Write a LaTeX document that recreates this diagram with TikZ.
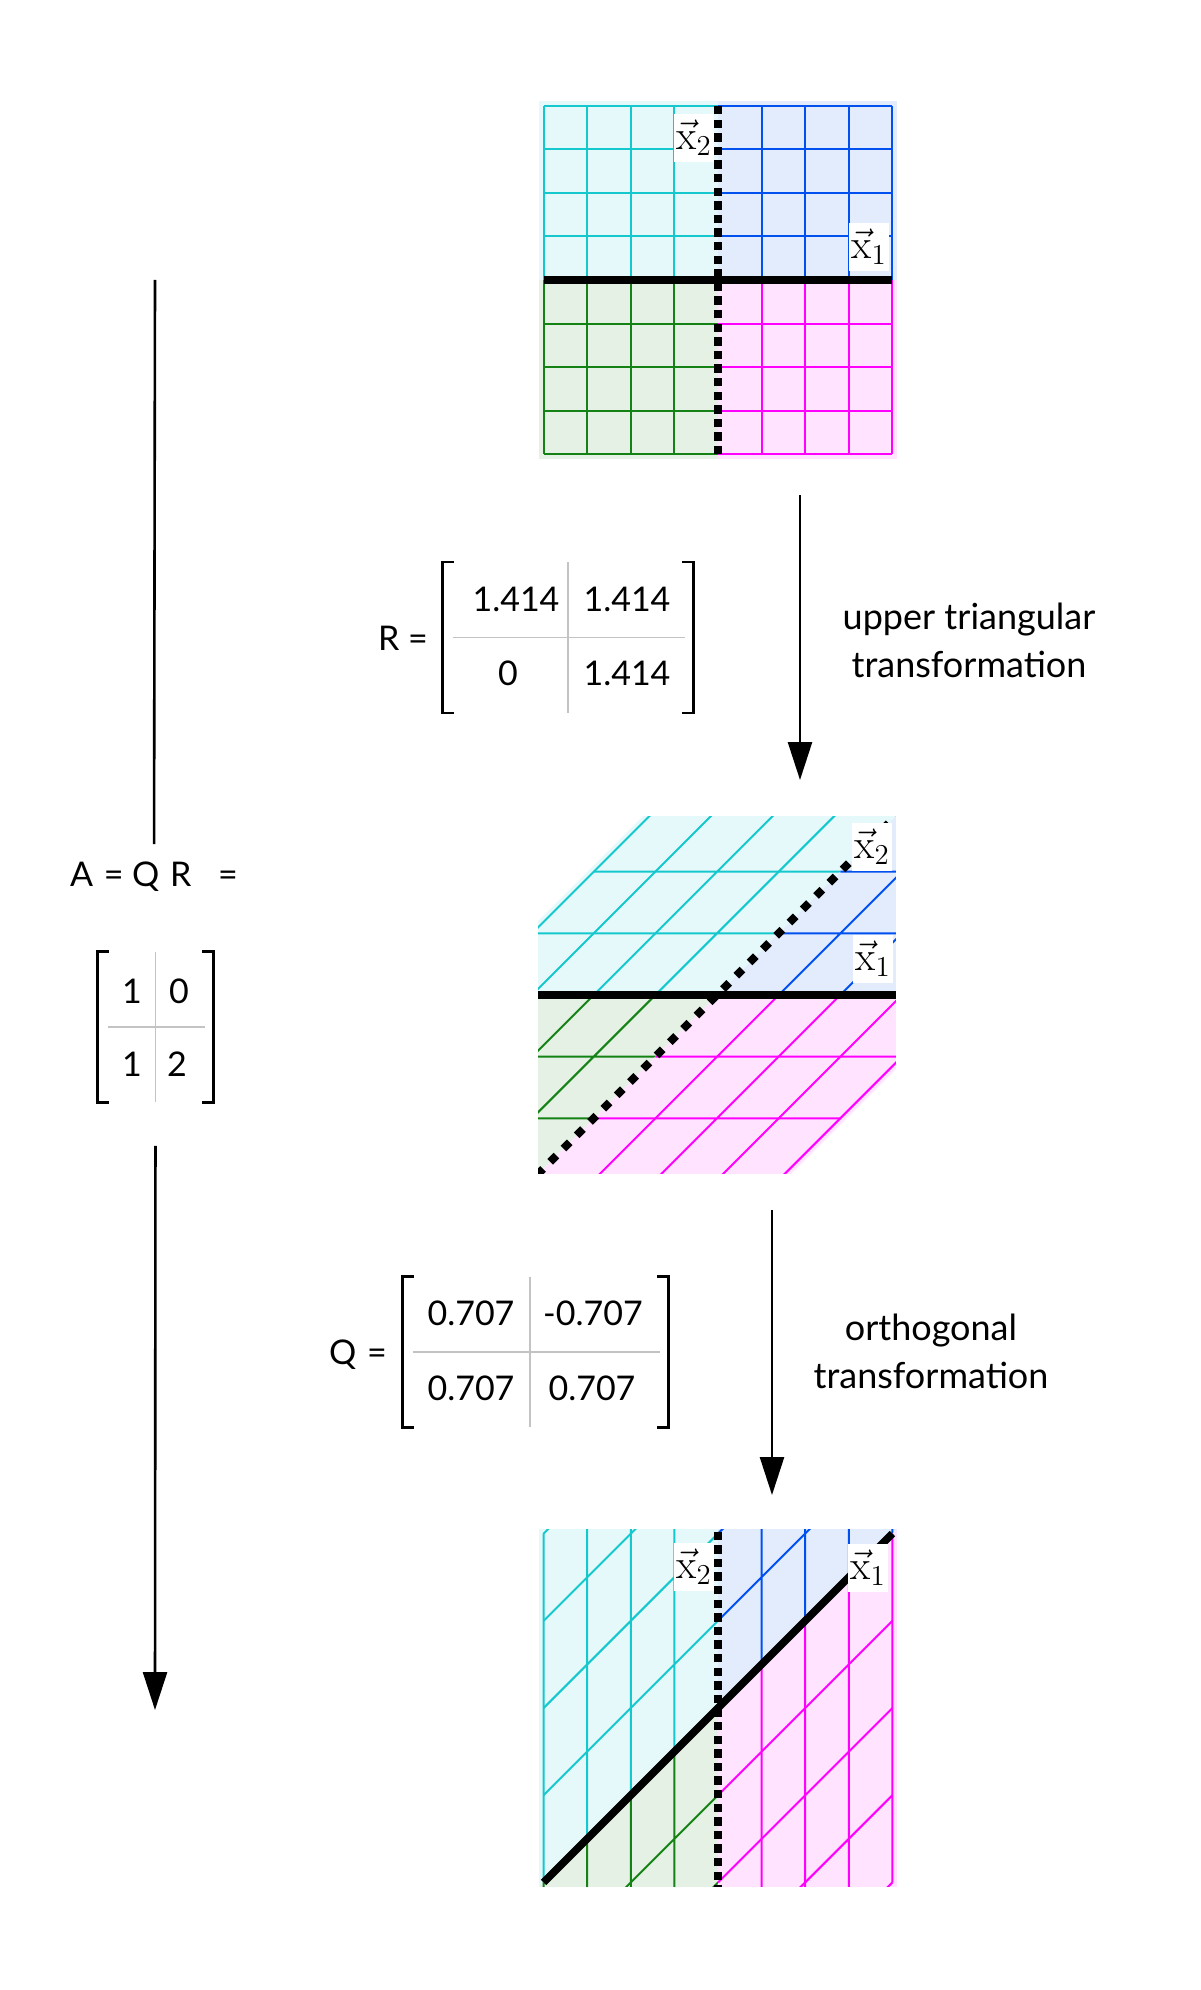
\documentclass[tikz,border=0pt]{standalone}
\usepackage{fontspec}
\setsansfont{Lato}
\usepackage{tikz}
\usetikzlibrary{arrows.meta}

\definecolor{cyanq}{RGB}{20,200,205}
\definecolor{blueq}{RGB}{0,80,240}
\definecolor{greenq}{RGB}{20,130,20}
\definecolor{magq}{RGB}{255,0,255}
\definecolor{sepgray}{RGB}{195,195,195}

\begin{document}
\begin{tikzpicture}[
  x=0.5pt, y=-0.5pt,
  gridln/.style={line width=1pt},
  xoneaxis/.style={line width=3.8pt},
  xtwoaxis/.style={line width=4pt, dash pattern=on 4.2pt off 2.6pt},
  xtwodiag/.style={line width=4pt, dash pattern=on 4.4pt off 5pt},
  veclabel/.style={fill=white, inner xsep=1pt, inner ysep=3pt, font=\huge},
  txt/.style={font=\sffamily\fontsize{18}{24}\selectfont, align=center},
  entry/.style={font=\sffamily\fontsize{17}{20}\selectfont, inner sep=0pt},
  mbox/.style={inner sep=0pt, minimum height=75pt},
  bracket/.style={line width=1.2pt},
  sepline/.style={sepgray, line width=0.6pt},
  flow/.style={line width=1.3pt},
  >={Triangle[length=19pt, width=12pt]},
]
\useasboundingbox (0,0) rectangle (1200,1990);

% the three grids: identity, R, A = QR
\foreach \px/\py/\ma/\mb/\mc/\md/\dst in {718/280/1/0/0/1/xtwoaxis,
    717/995/1.414/0/1.414/1.414/xtwodiag, 718/1708/1/1/0/2/xtwoaxis} {
  \begin{scope}[shift={(\px,\py)}, x=21.8pt, y=21.8pt]
    \clip (-4.1,-4.1) rectangle (4.1,4.1);
    \begin{scope}[cm={\ma,\mb,\mc,\md,(0,0)}]
      \foreach \sx/\sy/\c in {-1/1/cyanq, 1/1/blueq, -1/-1/greenq, 1/-1/magq} {
        \fill[fill=\c!11] (0,0) rectangle (4.1*\sx,4.1*\sy);
        \foreach \k in {1,...,4}
          \draw[gridln, draw=\c] (\sx*\k,0) -- (\sx*\k,4*\sy) (0,\sy*\k) -- (4*\sx,\sy*\k);
      }
      \draw[xoneaxis] (-4,0) -- (4,0);
      \draw[\dst] (0,-4) -- (0,4);
    \end{scope}
  \end{scope}
}

\node[veclabel] (xtwoA) at (694,138) {$\vec{\mathrm{x}}_2$};
\node[veclabel] (xoneA) at (869,247) {$\vec{\mathrm{x}}_1$};
\node[veclabel] (xtwoB) at (872,847) {$\vec{\mathrm{x}}_2$};
\node[veclabel] (xoneB) at (873,959) {$\vec{\mathrm{x}}_1$};
\node[veclabel] (xtwoC) at (694,1567) {$\vec{\mathrm{x}}_2$};
\node[veclabel] (xoneC) at (868,1568) {$\vec{\mathrm{x}}_1$};

% R
\node[entry] (Rlabel) at (403,638) {R =};
\node[mbox, minimum width=125pt] (Rbox) at (568,637.5) {};
\draw[bracket] ([xshift=5.5pt]Rbox.north west) -| (Rbox.south west) -- ++(5.5pt,0);
\draw[bracket] ([xshift=-5.5pt]Rbox.north east) -| (Rbox.south east) -- ++(-5.5pt,0);
\draw[sepline] (Rbox.north) -- (Rbox.south);
\draw[sepline] ([xshift=5pt]Rbox.west) -- ([xshift=-4pt]Rbox.east);
\node[entry] (R11) at (516,599) {1.414};
\node[entry] (R12) at (627,599) {1.414};
\node[entry] (R21) at (508,673) {0};
\node[entry] (R22) at (627,673) {1.414};
\node[txt] (Rtxt) at (969,640) {upper triangular\\transformation};
\coordinate (Rs) at (800,495);
\coordinate (Re) at (800,780);
\draw[flow, ->] (Rs) -- (Re);

% Q
\node[entry] (Qlabel) at (358,1355) {Q\hspace{1pt} =};
\node[mbox, minimum width=132.5pt] (Qbox) at (535.5,1352) {};
\draw[bracket] ([xshift=5.5pt]Qbox.north west) -| (Qbox.south west) -- ++(5.5pt,0);
\draw[bracket] ([xshift=-5.5pt]Qbox.north east) -| (Qbox.south east) -- ++(-5.5pt,0);
\draw[sepline] ([xshift=-2.75pt]Qbox.north) -- ([xshift=-2.75pt]Qbox.south);
\draw[sepline] ([xshift=5pt]Qbox.west) -- ([xshift=-4pt]Qbox.east);
\node[entry] (Q11) at (471,1313) {0.707};
\node[entry] (Q12) at (593,1313) {-0.707};
\node[entry] (Q21) at (471,1388) {0.707};
\node[entry] (Q22) at (592,1388) {0.707};
\node[txt] (Qtxt) at (931,1351) {orthogonal\\transformation};
\coordinate (Qs) at (772,1210);
\coordinate (Qe) at (772,1495);
\draw[flow, ->] (Qs) -- (Qe);

% A = QR
\node[entry] (AQR) at (154,877) {A\hspace{1pt} = Q\hspace{1pt} R \hspace{9pt}=};
\node[mbox, minimum width=57.5pt] (Abox) at (155.5,1027) {};
\draw[bracket] ([xshift=5.5pt]Abox.north west) -| (Abox.south west) -- ++(5.5pt,0);
\draw[bracket] ([xshift=-5.5pt]Abox.north east) -| (Abox.south east) -- ++(-5.5pt,0);
\draw[sepline] (Abox.north) -- (Abox.south);
\draw[sepline] ([xshift=5pt]Abox.west) -- ([xshift=-4pt]Abox.east);
\node[entry] (A11) at (132,991) {1};
\node[entry] (A12) at (179,991) {0};
\node[entry] (A21) at (132,1064) {1};
\node[entry] (A22) at (177,1064) {2};
\coordinate (Atop) at (155,280);
\coordinate (Aend) at (155,1710);
\draw[flow, shorten >=16.5pt] (Atop) -- (AQR.center);
\draw[flow, ->, shorten <=21.75pt] (Abox.south) -- (Aend);
\end{tikzpicture}
\end{document}
